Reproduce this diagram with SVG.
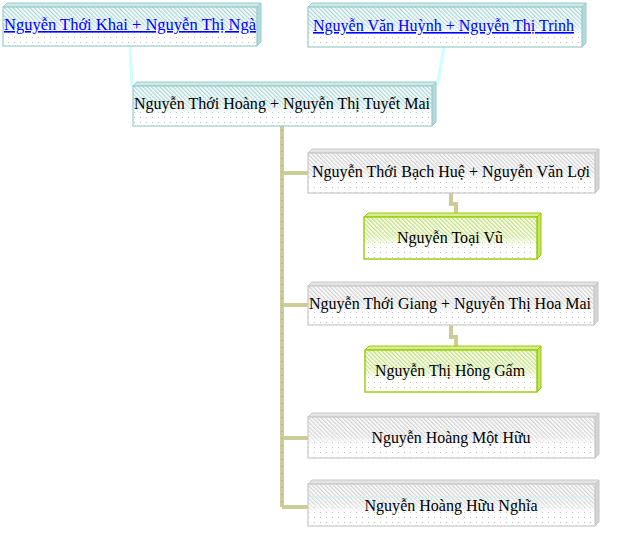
<svg xmlns="http://www.w3.org/2000/svg" width="619" height="550" viewBox="0 0 619 550">
<style>
text{font-family:"Liberation Serif","Times New Roman",serif;font-size:16px;fill:#000;text-anchor:middle}
.lnk{fill:#0000ff;text-decoration:underline}
.tT{fill:#cfe9e9;stroke:#99cccc;stroke-width:1}
.sT{fill:#b5dada;stroke:#99cccc;stroke-width:1}
.oT{fill:none;stroke:#99cccc;stroke-width:1.2}
.tG{fill:#e4e4e4;stroke:#c8c8c8;stroke-width:1}
.sG{fill:#d4d4d4;stroke:#c8c8c8;stroke-width:1}
.oG{fill:none;stroke:#c8c8c8;stroke-width:1.2}
.tY{fill:#d6ec99;stroke:#99cc00;stroke-width:1}
.sY{fill:#c4e266;stroke:#99cc00;stroke-width:1}
.oY{fill:none;stroke:#99cc00;stroke-width:1.4}
.dots{fill:url(#dots)}
.trunk{fill:none;stroke:#cccc99;stroke-width:4}
.trunkdots{fill:none;stroke:#a0a080;stroke-width:1;stroke-dasharray:1 6}
.cy{fill:none;stroke:#ccffff;stroke-width:3}
</style>
<defs>
<pattern id="dots" width="6" height="5" patternUnits="userSpaceOnUse"><rect width="6" height="5" fill="#ffffff"/><rect x="2" y="2" width="1" height="1" fill="#c0c0c0"/></pattern>
<pattern id="hT" width="3" height="3" patternUnits="userSpaceOnUse" patternTransform="rotate(-45)"><rect width="3" height="3" fill="#ffffff"/><rect width="1.4" height="3" fill="#a9d6d6"/></pattern>
<pattern id="hG" width="3" height="3" patternUnits="userSpaceOnUse" patternTransform="rotate(-45)"><rect width="3" height="3" fill="#ffffff"/><rect width="1.4" height="3" fill="#d0d0d0"/></pattern>
<pattern id="hY" width="3" height="3" patternUnits="userSpaceOnUse" patternTransform="rotate(-45)"><rect width="3" height="3" fill="#ffffff"/><rect width="1.4" height="3" fill="#bde070"/></pattern>
<linearGradient id="fade" x1="0" y1="0" x2="0" y2="1"><stop offset="0" stop-color="#fff" stop-opacity="1"/><stop offset="0.45" stop-color="#fff" stop-opacity="0.85"/><stop offset="0.72" stop-color="#fff" stop-opacity="0"/></linearGradient>
<mask id="m" maskContentUnits="objectBoundingBox"><rect width="1" height="1" fill="url(#fade)"/></mask>
</defs>

<g id="connectors">
<line class="cy" x1="130" y1="46" x2="132" y2="86"/>
<line class="cy" x1="444" y1="47" x2="437" y2="86"/>
<path class="trunk" d="M282,126 V507 M282,173 H308 M282,305 H308 M282,438 H308 M282,507 H308"/>
<path class="trunkdots" d="M282,130 V505"/>
<path class="trunk" d="M451,193 V204 H456 V217"/>
<path class="trunk" d="M451,325 V337 H456 V350"/>
</g>

<g id="n1">
<polygon class="tT" points="3,7 7,3 261,3 257,7"/>
<polygon class="sT" points="257,7 261,3 261,42 257,46"/>
<rect class="dots" x="3" y="7" width="254" height="39"/>
<rect x="3" y="7" width="254" height="39" fill="url(#hT)" mask="url(#m)"/>
<rect class="oT" x="3" y="7" width="254" height="39"/>
<text class="lnk" x="130" y="30" textLength="252" lengthAdjust="spacingAndGlyphs">Nguyễn Thới Khai  +  Nguyễn Thị Ngà</text>
</g>

<g id="n2">
<polygon class="tT" points="308,7 312,3 586,3 582,7"/>
<polygon class="sT" points="582,7 586,3 586,43 582,47"/>
<rect class="dots" x="308" y="7" width="274" height="40"/>
<rect x="308" y="7" width="274" height="40" fill="url(#hT)" mask="url(#m)"/>
<rect class="oT" x="308" y="7" width="274" height="40"/>
<text class="lnk" x="443.5" y="31" textLength="261" lengthAdjust="spacingAndGlyphs">Nguyễn Văn Huỳnh + Nguyễn Thị  Trinh</text>
</g>

<g id="n3">
<polygon class="tT" points="133,86 137,82 436,82 432,86"/>
<polygon class="sT" points="432,86 436,82 436,122 432,126"/>
<rect class="dots" x="133" y="86" width="299" height="40"/>
<rect x="133" y="86" width="299" height="40" fill="url(#hT)" mask="url(#m)"/>
<rect class="oT" x="133" y="86" width="299" height="40"/>
<text x="282" y="109" textLength="296" lengthAdjust="spacingAndGlyphs">Nguyễn Thới Hoàng + Nguyễn Thị  Tuyết Mai</text>
</g>

<g id="n4">
<polygon class="tG" points="308,153 312,149 599,149 595,153"/>
<polygon class="sG" points="595,153 599,149 599,189 595,193"/>
<rect class="dots" x="308" y="153" width="287" height="40"/>
<rect x="308" y="153" width="287" height="40" fill="url(#hG)" mask="url(#m)"/>
<rect class="oG" x="308" y="153" width="287" height="40"/>
<text x="451" y="177" textLength="278" lengthAdjust="spacingAndGlyphs">Nguyễn Thới Bạch Huệ + Nguyễn Văn Lợi</text>
</g>

<g id="n5">
<polygon class="tY" points="364,217 368,213 541,213 537,217"/>
<polygon class="sY" points="537,217 541,213 541,255 537,259"/>
<rect class="dots" x="364" y="217" width="173" height="42"/>
<rect x="364" y="217" width="173" height="42" fill="url(#hY)" mask="url(#m)"/>
<rect class="oY" x="364" y="217" width="173" height="42"/>
<text x="450" y="243" textLength="106" lengthAdjust="spacingAndGlyphs">Nguyễn Toại Vũ</text>
</g>

<g id="n6">
<polygon class="tG" points="308,286 312,282 598,282 594,286"/>
<polygon class="sG" points="594,286 598,282 598,321 594,325"/>
<rect class="dots" x="308" y="286" width="286" height="39"/>
<rect x="308" y="286" width="286" height="39" fill="url(#hG)" mask="url(#m)"/>
<rect class="oG" x="308" y="286" width="286" height="39"/>
<text x="450" y="309" textLength="282" lengthAdjust="spacingAndGlyphs">Nguyễn Thới Giang + Nguyễn Thị  Hoa Mai</text>
</g>

<g id="n7">
<polygon class="tY" points="365,350 369,346 541,346 537,350"/>
<polygon class="sY" points="537,350 541,346 541,388 537,392"/>
<rect class="dots" x="365" y="350" width="172" height="42"/>
<rect x="365" y="350" width="172" height="42" fill="url(#hY)" mask="url(#m)"/>
<rect class="oY" x="365" y="350" width="172" height="42"/>
<text x="450" y="376" textLength="150" lengthAdjust="spacingAndGlyphs">Nguyễn Thị Hồng Gấm</text>
</g>

<g id="n8">
<polygon class="tG" points="308,417 312,413 599,413 595,417"/>
<polygon class="sG" points="595,417 599,413 599,454 595,458"/>
<rect class="dots" x="308" y="417" width="287" height="41"/>
<rect x="308" y="417" width="287" height="41" fill="url(#hG)" mask="url(#m)"/>
<rect class="oG" x="308" y="417" width="287" height="41"/>
<text x="451" y="443" textLength="159" lengthAdjust="spacingAndGlyphs">Nguyễn Hoàng Một Hữu</text>
</g>

<g id="n9">
<polygon class="tG" points="308,484 312,480 599,480 595,484"/>
<polygon class="sG" points="595,484 599,480 599,522 595,526"/>
<rect class="dots" x="308" y="484" width="287" height="42"/>
<rect x="308" y="484" width="287" height="42" fill="url(#hG)" mask="url(#m)"/>
<line x1="309" y1="497" x2="594" y2="497" stroke="#ccf2f2" stroke-width="1"/>
<rect class="oG" x="308" y="484" width="287" height="42"/>
<text x="451" y="511" textLength="173" lengthAdjust="spacingAndGlyphs">Nguyễn Hoàng Hữu Nghĩa</text>
</g>
</svg>
